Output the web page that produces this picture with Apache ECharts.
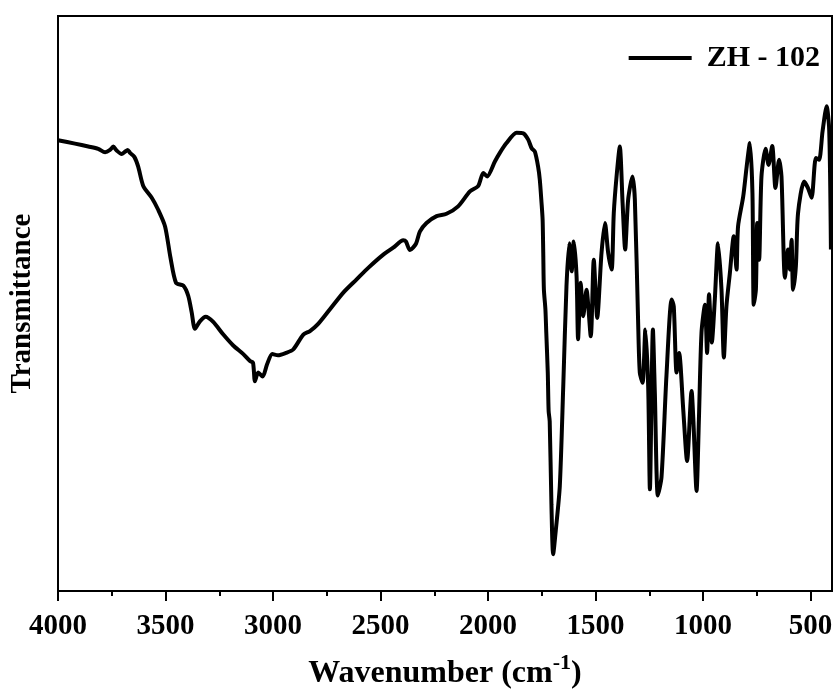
<!DOCTYPE html>
<html>
<head>
<meta charset="utf-8">
<title>ZH - 102 FTIR</title>
<script src="https://cdn.jsdelivr.net/npm/echarts@6/dist/echarts.min.js"></script>
<style>
  html, body { margin: 0; padding: 0; background: #fff; }
  #chart { width: 839px; height: 695px; }
</style>
</head>
<body>
<div id="chart"></div>
<script>
// FTIR spectrum of sample ZH - 102 (wavenumber in cm-1, transmittance in arbitrary units)
const seriesName = 'ZH - 102';

const wavenumber = [
  4000, 3921, 3859, 3813, 3781, 3758, 3743, 3727, 3704, 3688, 3676, 3665, 3645, 3627, 3603,
  3564, 3534, 3502, 3477, 3451, 3417, 3394, 3378, 3363, 3340, 3313, 3278, 3231, 3185, 3138,
  3107, 3093, 3084, 3069, 3048, 3028, 3003, 2977, 2940, 2906, 2859, 2828, 2791, 2735, 2673,
  2611, 2557, 2487, 2441, 2394, 2382, 2363, 2335, 2317, 2286, 2239, 2193, 2139, 2084, 2046,
  2022, 2004, 1968, 1945, 1914, 1867, 1836, 1813, 1797, 1782, 1767, 1759, 1751, 1746, 1743,
  1740, 1733, 1729, 1722, 1718, 1713, 1705, 1697, 1684, 1666, 1650, 1635, 1622, 1611, 1601,
  1588, 1581, 1569, 1557, 1542, 1522, 1508, 1492, 1472, 1456, 1441, 1425, 1415, 1402, 1387,
  1374, 1362, 1348, 1328, 1317, 1302, 1294, 1281, 1268, 1255, 1247, 1233, 1224, 1210, 1193,
  1170, 1146, 1136, 1123, 1111, 1092, 1074, 1053, 1045, 1030, 1019, 1007, 991, 981, 972,
  959, 945, 930, 914, 903, 891, 875, 857, 844, 837, 813, 797, 782, 770, 764,
  754, 748, 739, 728, 709, 695, 678, 663, 646, 635, 619, 604, 596, 588, 581,
  568, 558, 530, 512, 495, 475, 460, 444, 425, 413, 405
];

const transmittance = [
  78.4, 77.8, 77.3, 76.9, 76.3, 76.7, 77.3, 76.6, 76.0, 76.4, 76.7, 76.2, 75.5, 73.8, 70.4,
  68.4, 66.3, 63.4, 58.0, 53.6, 53.1, 51.3, 48.4, 45.6, 46.9, 47.7, 46.8, 44.6, 42.7, 41.2,
  40.0, 39.7, 36.5, 38.0, 37.3, 39.4, 41.2, 41.0, 41.4, 42.0, 44.6, 45.2, 46.4, 49.0, 51.9,
  54.2, 56.2, 58.5, 59.7, 61.0, 60.8, 59.3, 60.4, 62.5, 64.0, 65.2, 65.6, 66.9, 69.5, 70.4,
  72.7, 72.1, 74.7, 76.2, 77.9, 79.7, 79.6, 78.5, 77.0, 76.4, 73.8, 71.5, 67.5, 64.6, 58.8,
  52.4, 49.0, 45.0, 38.0, 31.3, 29.5, 15.1, 6.4, 10.8, 18.3, 35.6, 53.0, 60.5, 55.6, 60.8,
  54.7, 43.8, 53.6, 47.8, 52.4, 44.3, 57.6, 47.5, 58.8, 64.0, 58.8, 55.9, 65.7, 72.1, 77.3,
  67.5, 59.4, 68.1, 72.1, 68.1, 47.2, 38.0, 36.2, 45.5, 35.6, 17.7, 45.5, 34.5, 16.6, 19.8,
  37.4, 50.7, 49.5, 38.0, 41.4, 31.6, 22.6, 34.8, 29.9, 17.4, 29.9, 44.9, 49.8, 41.4, 51.6,
  43.2, 50.7, 60.5, 52.4, 40.6, 49.5, 55.3, 61.7, 55.9, 63.4, 68.6, 73.8, 77.9, 69.2, 49.8,
  52.4, 64.0, 57.6, 72.1, 76.9, 74.1, 77.4, 70.1, 75.0, 72.1, 54.5, 59.4, 55.9, 61.1, 52.4,
  56.5, 65.7, 71.2, 70.1, 68.4, 75.3, 75.0, 79.9, 84.3, 80.2, 59.4
];

const majorTicks = [4000, 3500, 3000, 2500, 2000, 1500, 1000, 500];
const minorTicks = [3750, 3250, 2750, 2250, 1750, 1250, 750];

const spectrum = wavenumber.map((w, i) => [w, transmittance[i]]);

const serif = '"Liberation Serif", "Times New Roman", serif';
const chart = echarts.init(document.getElementById('chart'), null, { renderer: 'canvas' });

chart.setOption({
  animation: false,
  backgroundColor: '#fff',
  grid: {
    left: 58, right: 7, top: 16, bottom: 103,
    show: true, borderColor: '#000', borderWidth: 2, backgroundColor: 'transparent'
  },
  legend: {
    data: [seriesName],
    right: 14, top: 38,
    icon: 'rect',
    itemWidth: 63, itemHeight: 4,
    itemStyle: { color: '#000', borderWidth: 0 },
    textStyle: { fontFamily: serif, fontWeight: 'bold', fontSize: 30, color: '#000', padding: [0, 0, 0, 10] }
  },
  xAxis: [
    {
      type: 'value', min: 400, max: 4000, inverse: true,
      axisLine: { show: true, lineStyle: { color: '#000', width: 2 } },
      axisTick: { show: true, customValues: majorTicks, length: 10, lineStyle: { color: '#000', width: 2 } },
      axisLabel: {
        show: true, customValues: majorTicks, margin: 21,
        formatter: (v) => String(v),
        fontFamily: serif, fontWeight: 'bold', fontSize: 29, color: '#000'
      },
      splitLine: { show: false },
      name: '{t|Wavenumber (cm}{s|-1}{t|)}',
      nameLocation: 'middle', nameGap: 61,
      nameTextStyle: {
        rich: {
          t: { fontFamily: serif, fontWeight: 'bold', fontSize: 32, color: '#000', verticalAlign: 'bottom' },
          s: { fontFamily: serif, fontWeight: 'bold', fontSize: 22, color: '#000', verticalAlign: 'top', padding: [0, 0, 16, 0] }
        }
      }
    },
    {
      type: 'value', min: 400, max: 4000, inverse: true, position: 'bottom',
      axisLine: { show: false },
      axisTick: { show: true, customValues: minorTicks, length: 5, lineStyle: { color: '#000', width: 2 } },
      axisLabel: { show: false },
      splitLine: { show: false }
    }
  ],
  yAxis: {
    type: 'value', min: 0, max: 100,
    axisLine: { show: true, lineStyle: { color: '#000', width: 2 } },
    axisTick: { show: false },
    axisLabel: { show: false },
    splitLine: { show: false },
    name: 'Transmittance',
    nameLocation: 'middle', nameGap: 21,
    nameTextStyle: { fontFamily: serif, fontWeight: 'bold', fontSize: 29, color: '#000' }
  },
  series: [{
    name: seriesName,
    type: 'line',
    xAxisIndex: 0,
    data: spectrum,
    showSymbol: false,
    symbol: 'none',
    smooth: 0.25,
    lineStyle: { color: '#000', width: 4 },
    itemStyle: { color: '#000' }
  }]
});
</script>
</body>
</html>
